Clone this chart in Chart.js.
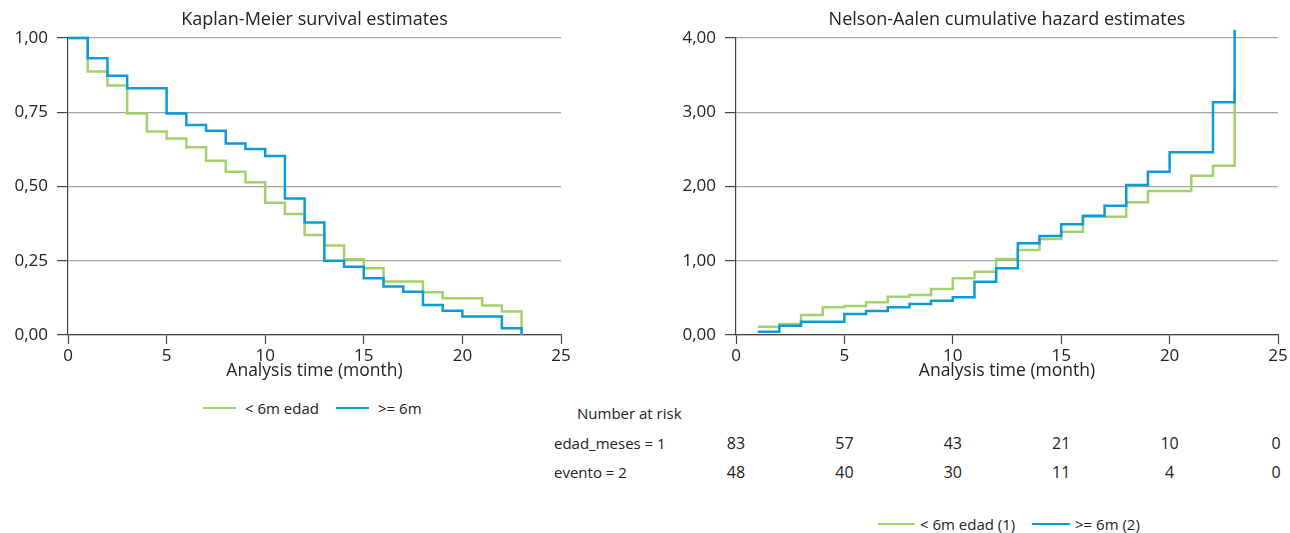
<!DOCTYPE html>
<html><head><meta charset="utf-8">
<script src="https://cdn.jsdelivr.net/npm/chart.js@4.4.1/dist/chart.umd.min.js"></script>
<style>
html,body{margin:0;padding:0;background:#fff;width:1290px;height:533px;overflow:hidden;font-family:'Open Sans',sans-serif;color:#222;}
canvas{position:absolute;top:0;}
#km{left:0;}
#na{left:600px;}
.t{position:absolute;font-size:15px;white-space:nowrap;line-height:20px;color:#222;}
.n{font-size:16px;}
.sw{position:absolute;height:2px;}
</style></head><body>
<canvas id="km" width="600" height="382" style="width:600px;height:382px"></canvas>
<canvas id="na" width="690" height="382" style="width:690px;height:382px"></canvas>
<div id="overlay"></div>
<script>
// ---- data ----
const kmTimesLt6 = [0,1,2,3,4,5,6,7,8,9,10,11,12,13,14,15,16,18,19,21,22,23];
const kmSurvLt6  = [1.0,0.887,0.840,0.746,0.685,0.662,0.632,0.587,0.550,0.514,0.445,0.407,0.337,0.301,0.255,0.225,0.180,0.144,0.124,0.099,0.079,0.0];
const kmTimesGe6 = [0,1,2,3,5,6,7,8,9,10,11,12,13,14,15,16,17,18,19,20,22,23];
const kmSurvGe6  = [1.0,0.932,0.873,0.831,0.746,0.707,0.688,0.645,0.626,0.603,0.460,0.379,0.250,0.230,0.191,0.163,0.146,0.101,0.082,0.062,0.023,0.0];

const naTimesLt6 = [1,2,3,4,5,6,7,8,9,10,11,12,13,14,15,16,18,19,21,22,23];
const naHazLt6   = [0.112,0.148,0.269,0.373,0.391,0.440,0.516,0.539,0.620,0.763,0.853,1.024,1.145,1.293,1.392,1.594,1.787,1.940,2.146,2.280,3.300];
const naTimesGe6 = [1,2,3,5,6,7,8,9,10,11,12,13,14,15,16,17,18,19,20,22,23];
const naHazGe6   = [0.045,0.126,0.180,0.283,0.323,0.373,0.418,0.462,0.507,0.718,0.898,1.235,1.333,1.491,1.607,1.742,2.020,2.200,2.460,3.134,4.110];

const xTicks = [0,5,10,15,20,25];
const xTickLabels = ['0','5','10','15','20','25'];
const kmYTicks = [0,0.25,0.5,0.75,1];
const kmYTickLabels = ['0,00','0,25','0,50','0,75','1,00'];
const naYTicks = [0,1,2,3,4];
const naYTickLabels = ['0,00','1,00','2,00','3,00','4,00'];

const riskTimes = [0,5,10,15,20,25];
const riskRow1 = [83,57,43,21,10,0];
const riskRow2 = [48,40,30,11,4,0];
const riskLabels = ['edad_meses = 1','evento = 2'];

const seriesNames = ['< 6m edad','>= 6m'];
const seriesNamesNA = ['< 6m edad (1)','>= 6m (2)'];
const colGreen = '#a3d16c';
const colBlue = '#0a9bd8';

// ---- charts ----
Chart.defaults.font.family = "'Open Sans', sans-serif";
Chart.defaults.font.size = 17;
Chart.defaults.color = '#222';

function pts(xs, ys){ return xs.map((x,i)=>({x:x,y:ys[i]})); }

function makeChart(id, title, datasets, yTicks, yLabels, yMax, yWidth, padRight){
  return new Chart(document.getElementById(id), {
    type:'line',
    data:{datasets:datasets},
    options:{
      responsive:false, animation:false,
      layout:{padding:{top:0,left:0,right:padRight,bottom:0}},
      plugins:{
        legend:{display:false}, tooltip:{enabled:false},
        title:{display:true, text:title, fullSize:false, font:{size:18, weight:'normal'}, color:'#222', padding:{top:9,bottom:7.4}}
      },
      scales:{
        x:{type:'linear', min:0, max:25,
          afterBuildTicks:s=>{ s.ticks = xTicks.map(v=>({value:v})); },
          ticks:{callback:(v,i)=>xTickLabels[i], padding:2, maxRotation:0, autoSkip:false, font:{size:17}},
          grid:{drawOnChartArea:false, drawTicks:true, tickLength:9, tickColor:'#444', tickWidth:1.2},
          border:{display:true, color:'#444', width:1.2},
          title:{display:true, text:'Analysis time (month)', font:{size:17.5}, color:'#222', padding:0},
          afterFit:s=>{ s.height = 47; }
        },
        y:{type:'linear', min:0, max:yMax,
          afterBuildTicks:s=>{ s.ticks = yTicks.map(v=>({value:v})); },
          ticks:{callback:(v,i)=>yLabels[i], padding:9, font:{size:17}},
          grid:{color:'#a3a3a3', lineWidth:1.2, tickLength:11, tickColor:'#444', tickWidth:1.2},
          border:{display:true, color:'#444', width:1.2},
          afterFit:s=>{ s.width = yWidth; }
        }
      }
    }
  });
}

function ds(label, data, color, order, clip){
  return {label:label, data:data, borderColor:color, backgroundColor:color, borderWidth:2.5,
    stepped:true, pointRadius:0, fill:false, order:order, clip:clip};
}

const km = makeChart('km','Kaplan-Meier survival estimates',[
  ds(seriesNames[0], pts(kmTimesLt6,kmSurvLt6), colGreen, 1, 4),
  ds(seriesNames[1], pts(kmTimesGe6,kmSurvGe6), colBlue, 0, 4)
], kmYTicks, kmYTickLabels, 1, 68, 39);

const na = makeChart('na','Nelson-Aalen cumulative hazard estimates',[
  ds(seriesNamesNA[0], pts(naTimesLt6,naHazLt6), colGreen, 1, false),
  ds(seriesNamesNA[1], pts(naTimesGe6,naHazGe6), colBlue, 0, false)
], naYTicks, naYTickLabels, 4, 136, 12);

// ---- overlay: legends and risk table ----
const ov = document.getElementById('overlay');
function txt(s, x, y, align, cls){
  const d = document.createElement('div'); d.className='t' + (cls ? ' '+cls : ''); d.textContent = s;
  d.style.top = (y-10)+'px';
  d.style.left = x+'px';
  if(align==='center'){ d.style.transform='translateX(-50%)'; }
  ov.appendChild(d); return d;
}
function sw(x, y, w, c){
  const d = document.createElement('div'); d.className='sw';
  d.style.left=x+'px'; d.style.top=(y-1)+'px'; d.style.width=w+'px'; d.style.background=c; ov.appendChild(d);
}
// left legend
sw(203,408,33,colGreen); txt(seriesNames[0],245,408);
sw(336,408,33,colBlue); txt(seriesNames[1],378,408);
// risk table
const naOffset = 600;
txt('Number at risk',577,413);
txt(riskLabels[0],554,443);
txt(riskLabels[1],554,472);
riskTimes.forEach((t,i)=>{
  let px = na.scales.x.getPixelForValue(t) + naOffset;
  if(i===riskTimes.length-1) px -= 2;
  txt(String(riskRow1[i]), px, 443, 'center', 'n');
  txt(String(riskRow2[i]), px, 472, 'center', 'n');
});
// right legend
sw(878,524,37,colGreen); txt(seriesNamesNA[0],920,524);
sw(1032,524,38,colBlue); txt(seriesNamesNA[1],1075,524);
</script>
</body></html>
